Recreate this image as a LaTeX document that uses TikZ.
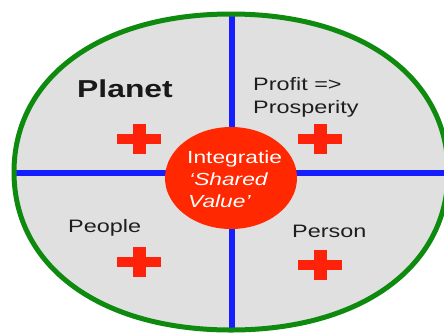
\documentclass[tikz,border=0pt]{standalone}
\usepackage{fontspec}
\setmainfont{Liberation Sans}
\newfontfamily\widefont[FakeStretch=1.3]{Liberation Sans}
\usetikzlibrary{shapes.geometric}
\definecolor{ringgreen}{RGB}{14,138,14}
\definecolor{crossblue}{RGB}{22,30,255}
\definecolor{fieldgray}{RGB}{224,224,224}
\definecolor{corered}{RGB}{255,40,0}
\definecolor{plusred}{RGB}{255,34,10}
\definecolor{labelink}{RGB}{30,30,30}
\def\rimshape{(448,172) .. controls (448,77.2) and (361.2,14) .. (231,14)
  .. controls (100.8,14) and (14,77.2) .. (14,172)
  .. controls (14,266.8) and (100.8,330) .. (231,330)
  .. controls (361.2,330) and (448,266.8) .. (448,172) -- cycle}
\tikzset{
  crossline/.style={draw=crossblue,line width=5.5pt},
  ring/.style={draw=ringgreen,line width=5pt},
  label/.style={anchor=base west,inner sep=0pt,text=labelink,font=\widefont\fontsize{18}{22}\selectfont},
  corelabel/.style={anchor=base west,inner sep=0pt,text=white,font=\widefont\fontsize{17.5}{21}\selectfont},
  redplus/.pic={
    \fill[plusred] (-22,-5) rectangle (22,5);
    \fill[plusred] (-6.5,-15) rectangle (6.5,15);
  }
}
\begin{document}
\begin{tikzpicture}[x=1pt,y=-1pt]
\useasboundingbox (0,0) rectangle (444,333);
\clip (0,0) rectangle (444,333);
\fill[fieldgray] \rimshape;
\coordinate (top) at (232,10);
\coordinate (bottom) at (232,345);
\coordinate (left) at (8,173);
\coordinate (right) at (460,173);
\begin{scope}
  \clip \rimshape;
  \draw[crossline] (top) -- (bottom);
  \draw[crossline] (left) -- (right);
\end{scope}
\draw[ring] \rimshape;
\node[ellipse,fill=corered,minimum width=132pt,minimum height=102pt,inner sep=0pt] (core) at (231,178) {};
\pic at (139,139) {redplus};
\pic at (320,139) {redplus};
\pic at (139,262) {redplus};
\pic at (320,265) {redplus};
\node[label,font=\widefont\bfseries\fontsize{24.5}{28}\selectfont,text=black!90] (planet) at (77,97) {Planet};
\node[label] (profit) at (253,90) {Profit =>};
\node[label] (prosperity) at (253,113) {Prosperity};
\node[label] (people) at (68,232) {People};
\node[label] (person) at (292,237) {Person};
\node[corelabel] (integ) at (187,163) {Integratie};
\node[corelabel,font=\widefont\itshape\fontsize{17.5}{21}\selectfont] (shared) at (189,185) {‘Shared};
\node[corelabel,font=\widefont\itshape\fontsize{17.5}{21}\selectfont] (value) at (188,207) {Value’};
\end{tikzpicture}
\end{document}
